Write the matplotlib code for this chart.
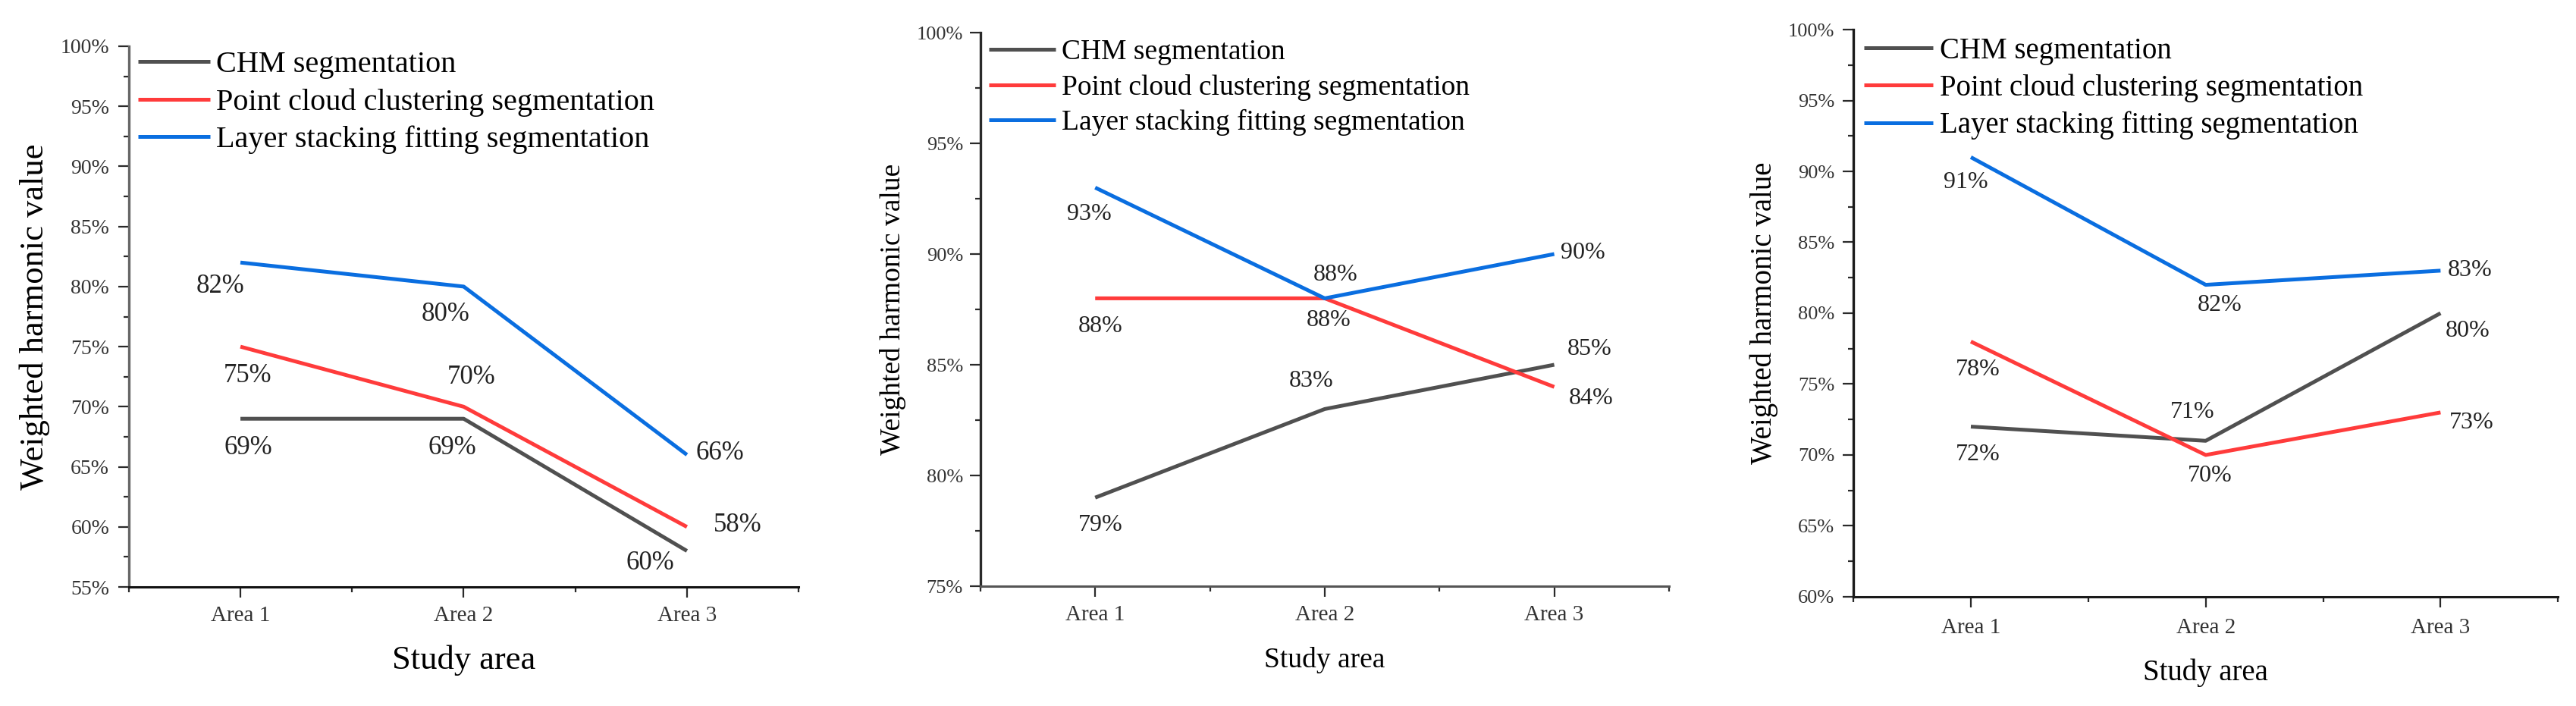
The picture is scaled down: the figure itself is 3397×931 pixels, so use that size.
import numpy as np
import matplotlib
matplotlib.use("Agg")
import matplotlib.pyplot as plt
from matplotlib.ticker import MultipleLocator, FuncFormatter

plt.rcParams['font.family'] = ['Liberation Serif', 'DejaVu Serif']

# ── Data ─────────────────────────────────────────────────────────────────────
areas = ["Area 1", "Area 2", "Area 3"]
series_names = ["CHM segmentation",
                "Point cloud clustering segmentation",
                "Layer stacking fitting segmentation"]

# panel (a)
chm_a   = [69, 69, 58]
pcc_a   = [75, 70, 60]
lsf_a   = [82, 80, 66]
chm_a_lbl = ["69%", "69%", "60%"]
pcc_a_lbl = ["75%", "70%", "58%"]
lsf_a_lbl = ["82%", "80%", "66%"]

# panel (b)
chm_b   = [79, 83, 85]
pcc_b   = [88, 88, 84]
lsf_b   = [93, 88, 90]
chm_b_lbl = ["79%", "83%", "85%"]
pcc_b_lbl = ["88%", "88%", "84%"]
lsf_b_lbl = ["93%", "88%", "90%"]

# panel (c)
chm_c   = [72, 71, 80]
pcc_c   = [78, 70, 73]
lsf_c   = [91, 82, 83]
chm_c_lbl = ["72%", "71%", "80%"]
pcc_c_lbl = ["78%", "70%", "73%"]
lsf_c_lbl = ["91%", "82%", "83%"]

colors = ["#505050", "#ff3b3b", "#0a6ee0"]

# ── Layout (pixel offsets of the value labels, per series) ────────────────────
panels = [
    dict(rect=[0.0500, 0.1686, 0.2600, 0.7659], ylim=(55, 100),
         series=[chm_a, pcc_a, lsf_a], labels=[chm_a_lbl, pcc_a_lbl, lsf_a_lbl],
         offs=[[(10, -38), (-15, -38), (-48, -16)],
               [(10, -38), (10, 39), (67, 2)],
               [(-27, -31), (-24, -37), (44, 2)]],
         lab_fs=25, tick_fs=20, leg_fs=29, axlab_fs=32, xlab_y=-0.135, ylab_x=-0.140,
         leg_x=0.0136, leg_y=0.9916, ypad=8.5, xpad=8,
         spine_l="#666666", spine_b="#111111"),
    dict(rect=[0.3806, 0.1697, 0.2673, 0.7841], ylim=(75, 100),
         series=[chm_b, pcc_b, lsf_b], labels=[chm_b_lbl, pcc_b_lbl, lsf_b_lbl],
         offs=[[(7, -36), (-18, 37), (47, 21)],
               [(7, -37), (5, -29), (49, -15)],
               [(-8, -35), (14, 31), (38, 2)]],
         lab_fs=23, tick_fs=19, leg_fs=27, axlab_fs=27, xlab_y=-0.133, ylab_x=-0.127,
         leg_x=0.012, leg_y=0.9877, ypad=6.5, xpad=8,
         spine_l="#2a2a2a", spine_b="#555555"),
    dict(rect=[0.7195, 0.1547, 0.2735, 0.8034], ylim=(60, 100),
         series=[chm_c, pcc_c, lsf_c], labels=[chm_c_lbl, pcc_c_lbl, lsf_c_lbl],
         offs=[[(9, -37), (-17, 38), (36, -24)],
               [(9, -37), (6, -28), (41, -14)],
               [(-7, -33), (18, -27), (39, 0)]],
         lab_fs=23, tick_fs=19, leg_fs=28, axlab_fs=28, xlab_y=-0.134, ylab_x=-0.127,
         leg_x=0.015, leg_y=0.987, ypad=8, xpad=10,
         spine_l="#1a1a1a", spine_b="#1a1a1a"),
]

fig = plt.figure(figsize=(33.97, 9.31), dpi=100)
x = np.arange(1, len(areas) + 1)

for p in panels:
    ax = fig.add_axes(p["rect"])
    for k, (vals, lbls, offs) in enumerate(zip(p["series"], p["labels"], p["offs"])):
        ax.plot(x, vals, color=colors[k], lw=3.6, label=series_names[k],
                zorder=3 + k, solid_capstyle="butt")
        for xi, v, t, (dx, dy) in zip(x, vals, lbls, offs):
            ax.annotate(t, (xi, v), xytext=(dx, dy), textcoords="offset pixels",
                        ha="center", va="center", fontsize=p["lab_fs"], color="#222222")

    ax.set_xlim(0.5, 3.5)
    ax.set_ylim(*p["ylim"])
    ax.set_xticks(x)
    ax.set_xticklabels(areas)
    ax.xaxis.set_minor_locator(MultipleLocator(0.5))
    ax.yaxis.set_major_locator(MultipleLocator(5))
    ax.yaxis.set_minor_locator(MultipleLocator(2.5))
    ax.yaxis.set_major_formatter(FuncFormatter(lambda v, _: f"{v:.0f}%"))

    for s in ["top", "right"]:
        ax.spines[s].set_visible(False)
    ax.spines["left"].set_linewidth(2.4)
    ax.spines["left"].set_color(p["spine_l"])
    ax.spines["bottom"].set_linewidth(2.2)
    ax.spines["bottom"].set_color(p["spine_b"])

    ax.tick_params(axis="both", which="major", direction="out", length=10,
                   width=1.6, color="#2a2a2a", labelcolor="#333333")
    ax.tick_params(axis="both", which="minor", direction="out", length=5,
                   width=1.6, color="#2a2a2a")
    ax.tick_params(axis="y", which="major", labelsize=p["tick_fs"], pad=p["ypad"])
    ax.tick_params(axis="x", which="major", labelsize=21, pad=p["xpad"])

    ax.set_xlabel("Study area", fontsize=p["axlab_fs"], va="center")
    ax.xaxis.set_label_coords(0.5, p["xlab_y"])
    ax.set_ylabel("Weighted harmonic value", fontsize=p["axlab_fs"], va="center")
    ax.yaxis.set_label_coords(p["ylab_x"], 0.5)

    ax.legend(loc="upper left", bbox_to_anchor=(p["leg_x"], p["leg_y"]), frameon=False,
              fontsize=p["leg_fs"], handlelength=2.35, handletextpad=0.22,
              labelspacing=0.3, borderpad=0, borderaxespad=0)

fig.savefig("out.png", dpi=100)
